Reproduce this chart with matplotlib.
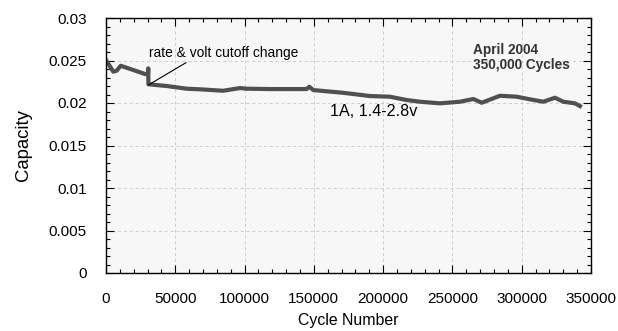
import matplotlib
matplotlib.use("Agg")
import matplotlib.pyplot as plt
from matplotlib.ticker import MultipleLocator

plt.rcParams['font.family'] = ['Liberation Sans', 'DejaVu Sans']

cycles = [0, 5270, 7720, 10610, 19700, 28140, 30300, 30500, 30600, 43800, 58200,
          67800, 84600, 96700, 101500, 118300, 144800, 146700, 149600, 171200,
          190500, 204900, 217000, 226600, 241000, 255400, 265100, 271100, 284300,
          296400, 306000, 315600, 324000, 330000, 338400, 342000]
capacity = [0.02505, 0.02368, 0.02380, 0.02438, 0.02388, 0.02341, 0.02340, 0.02408,
            0.02220, 0.02200, 0.02168, 0.02161, 0.02144, 0.02176, 0.02168, 0.02164,
            0.02164, 0.02191, 0.02152, 0.02120, 0.02082, 0.02074, 0.02035, 0.02015,
            0.01996, 0.02015, 0.02047, 0.02003, 0.02085, 0.02074, 0.02043, 0.02015,
            0.02062, 0.02015, 0.01996, 0.01964]

x_ticks = [0, 50000, 100000, 150000, 200000, 250000, 300000, 350000]
y_ticks = [0, 0.005, 0.01, 0.015, 0.02, 0.025, 0.03]
y_tick_labels = ['0', '0.005', '0.01', '0.015', '0.02', '0.025', '0.03']

fig = plt.figure(figsize=(6.18, 3.31), dpi=100)
ax = fig.add_axes([106/618, 1-273/331, 485/618, 255/331])
ax.set_facecolor('#f7f7f7')

ax.plot(cycles, capacity, color='#505050', lw=3.0, solid_joinstyle='round')

ax.set_xlim(0, 350000)
ax.set_ylim(0, 0.03)
ax.set_xticks(x_ticks)
ax.set_xticklabels([str(t) for t in x_ticks])
ax.set_yticks(y_ticks)
ax.set_yticklabels(y_tick_labels)
ax.xaxis.set_minor_locator(MultipleLocator(10000))
ax.yaxis.set_minor_locator(MultipleLocator(0.001))
ax.tick_params(which='both', direction='in', top=True, right=True, labelsize=11,
               color='black', width=0.8)
ax.tick_params(which='major', length=6)
ax.tick_params(axis='x', which='major', pad=14)
ax.tick_params(axis='y', which='major', pad=14)
ax.tick_params(which='minor', length=3)
ax.grid(True, which='major', color='#cccccc', ls=(0, (3, 3)), lw=0.7)
for s in ax.spines.values():
    s.set_linewidth(1.0)

ax.set_xlabel('Cycle Number', fontsize=11.4, labelpad=5)
ax.set_ylabel('Capacity', fontsize=13.3, labelpad=12)

ax.annotate('rate & volt cutoff change', xy=(30600, 0.02212), xytext=(31000, 0.0259),
            fontsize=9.9, va='center', ha='left',
            arrowprops=dict(arrowstyle='-', color='black', lw=0.8,
                            shrinkA=0, shrinkB=0, relpos=(0.28, 0.0)))
ax.text(0.756, 0.845, 'April 2004\n350,000 Cycles', transform=ax.transAxes,
        fontsize=9.8, fontweight='bold', color='#333333', va='center', ha='left',
        linespacing=1.1)
ax.text(0.462, 0.635, '1A, 1.4-2.8v', transform=ax.transAxes, fontsize=11.6,
        va='center', ha='left')

fig.savefig('out.png', dpi=100)
